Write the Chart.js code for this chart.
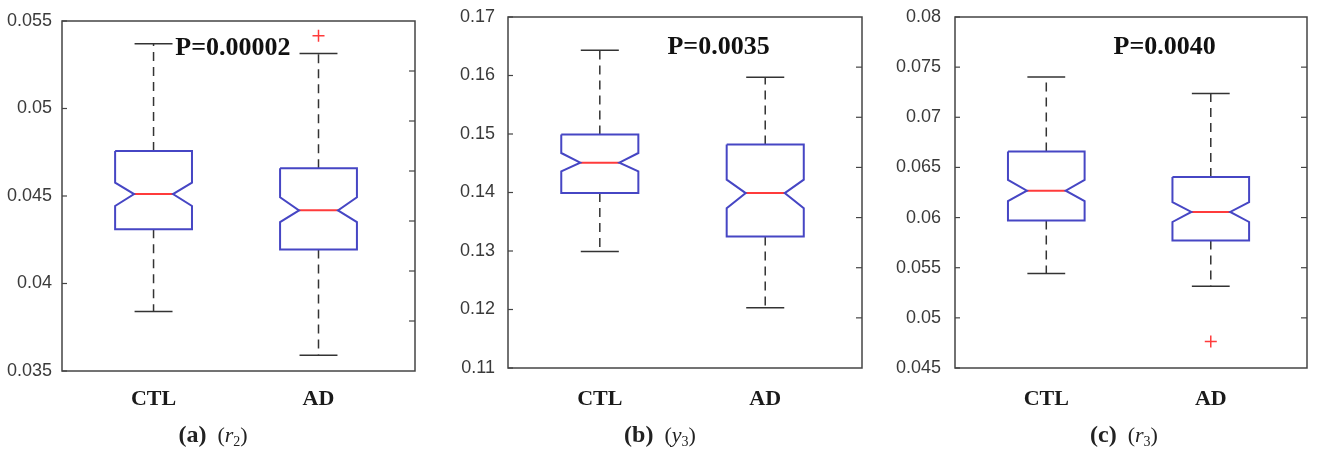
<!DOCTYPE html>
<html>
<head>
<meta charset="utf-8">
<script src="https://cdn.jsdelivr.net/npm/chart.js@4.4.1/dist/chart.umd.min.js"></script>
<style>
  body { margin: 0; background: #fff; }
  #wrap { position: relative; width: 1317px; height: 450px; overflow: hidden; }
  .panel { position: absolute; top: 0; height: 450px; }
  .cap { position: absolute; top: 421px; font-family: 'Liberation Serif', serif; font-size: 22px; color: #222; transform: translateX(-50%); white-space: nowrap; }
  .cap b { font-size: 24px; }
  .cap sub { font-size: 14px; vertical-align: -4px; }
</style>
</head>
<body>
<div id="wrap">
  <div class="panel" style="left:0;width:440px"><canvas id="ca"></canvas></div>
  <div class="panel" style="left:440px;width:440px"><canvas id="cb"></canvas></div>
  <div class="panel" style="left:877px;width:440px"><canvas id="cc"></canvas></div>
  <div class="cap" style="left:213px"><b>(a)</b>&nbsp; (<i>r</i><sub>2</sub>)</div>
  <div class="cap" style="left:660px"><b>(b)</b>&nbsp; (<i>y</i><sub>3</sub>)</div>
  <div class="cap" style="left:1124px"><b>(c)</b>&nbsp; (<i>r</i><sub>3</sub>)</div>
</div>
<script>
const groups = ['CTL', 'AD'];

// (a) r2
const aLow = [0.0384, 0.0359];
const aQ1 = [0.0431, 0.04195];
const aMed = [0.04511, 0.04418];
const aQ3 = [0.04757, 0.04658];
const aHigh = [0.0537, 0.05315];
const aNotchLo = [0.04443, 0.04351];
const aNotchHi = [0.04576, 0.04493];
const aOut = [[], [0.05416]];

// (b) y3
const bLow = [0.1299, 0.1203];
const bQ1 = [0.1399, 0.1325];
const bMed = [0.1451, 0.1399];
const bQ3 = [0.1499, 0.1482];
const bHigh = [0.1643, 0.1597];
const bNotchLo = [0.1436, 0.1373];
const bNotchHi = [0.14675, 0.1422];
const bOut = [[], []];

// (c) r3
const cLow = [0.05443, 0.05314];
const cQ1 = [0.05972, 0.05772];
const cMed = [0.06268, 0.06056];
const cQ3 = [0.0666, 0.06405];
const cHigh = [0.07402, 0.07238];
const cNotchLo = [0.06165, 0.05956];
const cNotchHi = [0.06375, 0.06155];
const cOut = [[], [0.04765]];

// axis ranges and p-values
const yRanges = [[0.035, 0.055, 0.005], [0.11, 0.17, 0.01], [0.045, 0.08, 0.005]];
const pTexts = ['P=0.00002', 'P=0.0035', 'P=0.0040'];

const BOX = '#4646c4', MED = '#ff3b3b', WHISK = '#333';
const W = 0.233, NW = 0.118, CW = 0.115;

function boxDatasets(low, q1, med, q3, high, nlo, nhi, outs) {
  const ds = [];
  groups.forEach((g, i) => {
    const x = i + 1;
    ds.push({ data: [
      { x: x - W, y: q3[i] }, { x: x + W, y: q3[i] }, { x: x + W, y: nhi[i] },
      { x: x + NW, y: med[i] }, { x: x + W, y: nlo[i] }, { x: x + W, y: q1[i] },
      { x: x - W, y: q1[i] }, { x: x - W, y: nlo[i] }, { x: x - NW, y: med[i] },
      { x: x - W, y: nhi[i] }, { x: x - W, y: q3[i] }
    ], borderColor: BOX, borderWidth: 2 });
    ds.push({ data: [{ x: x - NW, y: med[i] }, { x: x + NW, y: med[i] }], borderColor: MED, borderWidth: 2 });
    ds.push({ data: [{ x: x, y: q3[i] }, { x: x, y: high[i] }], borderColor: WHISK, borderWidth: 1.5, borderDash: [9, 6] });
    ds.push({ data: [{ x: x, y: q1[i] }, { x: x, y: low[i] }], borderColor: WHISK, borderWidth: 1.5, borderDash: [9, 6] });
    ds.push({ data: [{ x: x - CW, y: high[i] }, { x: x + CW, y: high[i] }], borderColor: WHISK, borderWidth: 1.5 });
    ds.push({ data: [{ x: x - CW, y: low[i] }, { x: x + CW, y: low[i] }], borderColor: WHISK, borderWidth: 1.5 });
    if (outs[i].length) {
      ds.push({ data: outs[i].map(v => ({ x: x, y: v })), showLine: false,
        pointStyle: 'cross', pointRadius: 6, borderColor: MED, borderWidth: 1.5 });
    }
  });
  ds.forEach(d => { if (d.pointRadius === undefined) d.pointRadius = 0; d.fill = false; d.tension = 0; });
  return ds;
}

// frame, inward ticks and the p-value text
const framePlugin = {
  id: 'frame',
  afterDatasetsDraw(chart, args, opts) {
    const { ctx, chartArea: a, scales } = chart;
    ctx.save();
    ctx.strokeStyle = '#444';
    ctx.lineWidth = 1.5;
    ctx.strokeRect(a.left, a.top, a.right - a.left, a.bottom - a.top);
    ctx.lineWidth = 1.2;
    scales.y.ticks.forEach(t => {
      const py = scales.y.getPixelForValue(t.value);
      ctx.beginPath(); ctx.moveTo(a.left, py); ctx.lineTo(a.left + 5, py); ctx.stroke();
    });
    for (let k = 1; k < 7; k++) {
      const py = scales.y2.getPixelForValue(k);
      ctx.beginPath(); ctx.moveTo(a.right, py); ctx.lineTo(a.right - 6, py); ctx.stroke();
    }
    ctx.fillStyle = '#111';
    ctx.font = 'bold 26px "Liberation Serif", serif';
    ctx.textAlign = 'center';
    ctx.textBaseline = 'middle';
    ctx.fillText(opts.text, scales.x.getPixelForValue(opts.x), scales.y.getPixelForValue(opts.y));
    ctx.restore();
  }
};

function makeChart(id, datasets, range, pText, pPos, layout) {
  new Chart(document.getElementById(id), {
    type: 'line',
    data: { datasets },
    plugins: [framePlugin],
    options: {
      responsive: false,
      animation: false,
      events: [],
      layout: { padding: { top: layout.top, right: layout.right, bottom: layout.bottom, left: 0 } },
      plugins: {
        legend: { display: false },
        tooltip: { enabled: false },
        frame: { text: pText, x: pPos[0], y: pPos[1] }
      },
      scales: {
        x: {
          type: 'linear', min: 0.445, max: 2.585,
          grid: { display: false, drawTicks: false }, border: { display: false },
          afterBuildTicks: ax => { ax.ticks = [{ value: 1 }, { value: 2 }]; },
          afterFit: ax => { ax.height = 50; ax.paddingLeft = 0; ax.paddingRight = 0; },
          ticks: {
            padding: layout.xpad, color: '#1a1a1a',
            font: { family: 'Liberation Serif', size: 22, weight: 'bold' },
            callback: v => groups[v - 1]
          }
        },
        y: {
          type: 'linear', min: range[0], max: range[1],
          grid: { display: false, drawTicks: false }, border: { display: false },
          afterFit: ax => { ax.width = layout.yw; ax.paddingTop = 0; ax.paddingBottom = 0; },
          ticks: {
            stepSize: range[2], padding: layout.pad, color: '#3a3a3a',
            font: { family: 'Liberation Sans', size: 18 },
            callback: v => String(+v.toFixed(4))
          }
        },
        y2: { type: 'linear', min: 0, max: 7, display: false }
      }
    }
  });
}

['ca', 'cb', 'cc'].forEach(id => {
  const c = document.getElementById(id);
  c.width = 440; c.height = 450;
});

makeChart('ca', boxDatasets(aLow, aQ1, aMed, aQ3, aHigh, aNotchLo, aNotchHi, aOut),
  yRanges[0], pTexts[0], [1.481, 0.05346], { top: 21, right: 25, bottom: 29, yw: 62, pad: 10, xpad: 15 });
makeChart('cb', boxDatasets(bLow, bQ1, bMed, bQ3, bHigh, bNotchLo, bNotchHi, bOut),
  yRanges[1], pTexts[1], [1.718, 0.1648], { top: 17, right: 18, bottom: 32, yw: 68, pad: 13, xpad: 18 });
makeChart('cc', boxDatasets(cLow, cQ1, cMed, cQ3, cHigh, cNotchLo, cNotchHi, cOut),
  yRanges[2], pTexts[2], [1.72, 0.07694], { top: 17, right: 10, bottom: 32, yw: 78, pad: 14, xpad: 18 });
</script>
</body>
</html>
